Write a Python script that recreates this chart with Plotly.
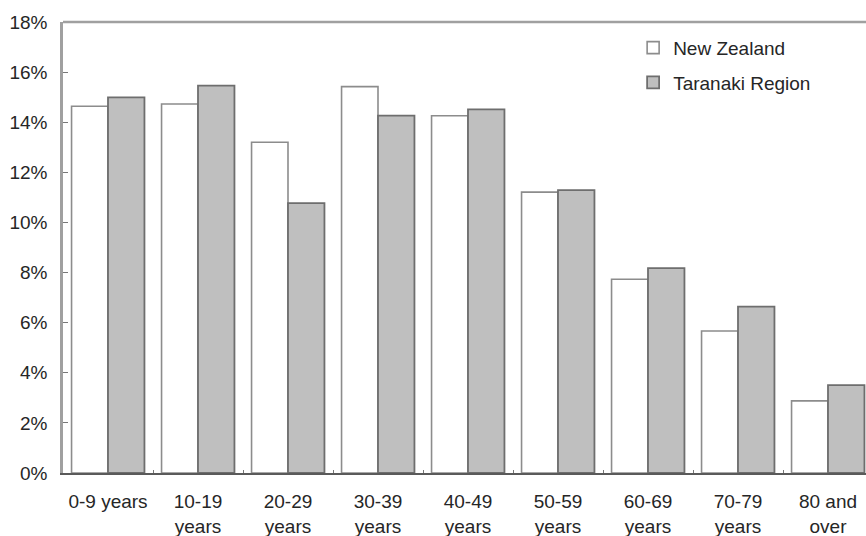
import plotly.graph_objects as go

# Share of population by age group (%)
age_groups = ["0-9 years", "10-19<br>years", "20-29<br>years", "30-39<br>years",
              "40-49<br>years", "50-59<br>years", "60-69<br>years", "70-79<br>years",
              "80 and<br>over"]
new_zealand = [14.64, 14.73, 13.20, 15.42, 14.26, 11.21, 7.73, 5.67, 2.88]
taranaki = [14.99, 15.46, 10.77, 14.26, 14.51, 11.29, 8.18, 6.64, 3.51]

font_family = "Liberation Sans, Arial, sans-serif"
text_color = "#262626"
font_size = 19

fig = go.Figure()
fig.add_trace(go.Bar(
    name="New Zealand", x=age_groups, y=new_zealand,
    marker=dict(color="#ffffff", line=dict(color="#8c8c8c", width=1.6)),
    legendgroup="nz",
))
fig.add_trace(go.Bar(
    name="Taranaki Region", x=age_groups, y=taranaki,
    marker=dict(color="#bfbfbf", line=dict(color="#6e6e6e", width=1.8)),
    legendgroup="tr",
))

fig.update_layout(
    width=866, height=536,
    margin=dict(l=63, r=0, t=22, b=63),
    paper_bgcolor="white", plot_bgcolor="white",
    barmode="group", bargap=0.19, bargroupgap=0,
    font=dict(family=font_family, size=font_size, color=text_color),
    showlegend=True,
    legend=dict(
        x=0.710, y=0.985, xanchor="left", yanchor="top",
        bgcolor="rgba(0,0,0,0)", tracegroupgap=7,
        font=dict(size=font_size, color=text_color),
        itemwidth=30,
    ),
)

fig.update_xaxes(
    range=[-0.5, -0.5 + 803 / 90],
    showline=True, linecolor="#5a5a5a", linewidth=2,
    mirror=False,
    ticks="inside", ticklen=3, tickcolor="#777777", tickson="boundaries",
    showgrid=False, zeroline=False,
    ticklabelstandoff=10,
    tickfont=dict(size=font_size, color=text_color),
)

fig.update_yaxes(
    range=[0, 18], dtick=2, ticksuffix="%",
    showline=True, linecolor="#a0a0a0", linewidth=2.5,
    ticks="inside", ticklen=5, tickcolor="#777777",
    showgrid=False, zeroline=False,
    ticklabelstandoff=9,
    tickfont=dict(size=font_size, color=text_color),
)

# Top border of the plotting frame
fig.add_shape(type="line", xref="paper", yref="paper", x0=0, x1=1, y0=1, y1=1,
              line=dict(color="#a0a0a0", width=2.5))

fig.write_html("out.html")
